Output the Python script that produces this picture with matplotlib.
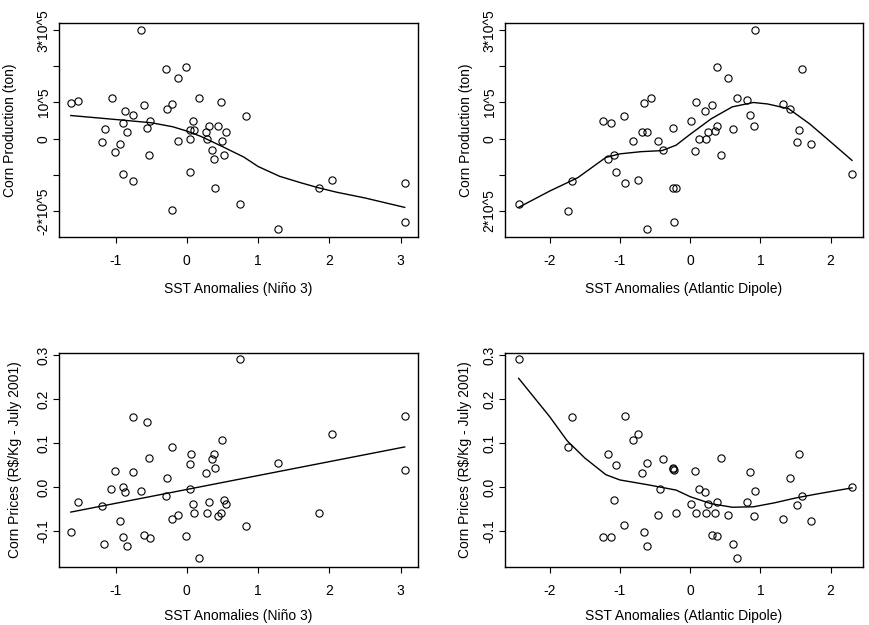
import matplotlib
matplotlib.use("Agg")
import matplotlib.pyplot as plt

plt.rcParams['font.family'] = ['Liberation Sans', 'DejaVu Sans']

# ---- Production vs Nino 3 ----
prod_nino_x = [-1.628, -1.528, -1.051, -1.154, -1.192, -1.005, -0.935, -0.902, -0.869, -0.841,
               -0.762, -0.902, -0.752, -0.649, -0.598, -0.561, -0.514, -0.533, -0.299, -0.280,
               -0.206, -0.210, -0.131, -0.131, -0.014, 0.047, 0.051, 0.051, 0.089, 0.103,
               0.173, 0.271, 0.280, 0.308, 0.355, 0.374, 0.393, 0.439, 0.472, 0.486,
               0.519, 0.556, 0.743, 0.827, 1.285, 1.855, 2.042, 3.056, 3.056]
prod_nino_y = [0.996, 1.051, 1.134, 0.276, -0.083, -0.359, -0.147, 0.433, 0.765, 0.175,
               0.654, -0.977, -1.161, 2.995, 0.922, 0.304, 0.479, -0.442, 1.935, 0.820,
               0.968, -1.977, 1.687, -0.065, 1.972, 0.0, 0.249, -0.922, 0.479, 0.230,
               1.111, 0.194, -0.009, 0.350, -0.313, -0.553, -1.364, 0.341, 1.023, -0.074,
               -0.442, 0.175, -1.806, 0.636, -2.488, -1.355, -1.143, -1.235, -2.304]
prod_nino_fit_x = [-1.628, -1.0, -0.5, -0.2, 0.0, 0.2, 0.5, 0.8, 1.0, 1.3, 1.6, 1.85, 2.1, 2.5, 3.056]
prod_nino_fit_y = [0.64, 0.53, 0.44, 0.33, 0.21, 0.06, -0.22, -0.51, -0.77, -1.04, -1.22, -1.36, -1.48, -1.64, -1.90]

# ---- Production vs Atlantic Dipole ----
prod_atl_x = [-2.441, -1.744, -1.687, -1.242, -1.166, -1.133, -1.081, -1.062, -0.943, -0.924,
              -0.810, -0.749, -0.687, -0.659, -0.621, -0.607, -0.555, -0.460, -0.384, -0.251,
              -0.246, -0.223, -0.199, 0.014, 0.066, 0.081, 0.133, 0.218, 0.232, 0.256,
              0.318, 0.355, 0.384, 0.389, 0.441, 0.540, 0.616, 0.668, 0.810, 0.848,
              0.910, 0.919, 1.322, 1.417, 1.517, 1.550, 1.597, 1.720, 2.303]
prod_atl_y = [-1.806, -1.999, -1.161, 0.479, -0.553, 0.433, -0.442, -0.922, 0.636, -1.235,
              -0.074, -1.143, 0.194, 0.996, 0.175, -2.488, 1.134, -0.065, -0.313, -1.355,
              0.304, -2.304, -1.355, 0.479, -0.350, 1.023, 0.0, 0.765, 0.0, 0.175,
              0.922, 0.221, 1.972, 0.359, -0.442, 1.687, 0.276, 1.111, 1.060, 0.654,
              0.341, 2.995, 0.968, 0.820, -0.083, 0.249, 1.935, -0.147, -0.977]
prod_atl_fit_x = [-2.441, -2.0, -1.6, -1.2, -1.0, -0.7, -0.4, -0.2, 0.0, 0.3, 0.6, 0.9, 1.1, 1.4, 1.7, 2.0, 2.303]
prod_atl_fit_y = [-1.90, -1.45, -1.08, -0.52, -0.42, -0.36, -0.33, -0.18, 0.12, 0.55, 0.88, 1.00, 0.96, 0.83, 0.41, -0.09, -0.60]

# ---- Prices vs Nino 3 ----
price_nino_x = [-1.628, -1.528, -1.196, -1.159, -1.061, -1.009, -0.939, -0.902, -0.902, -0.869,
                -0.841, -0.762, -0.762, -0.650, -0.598, -0.561, -0.533, -0.514, -0.299, -0.280,
                -0.210, -0.206, -0.131, -0.014, 0.047, 0.051, 0.056, 0.089, 0.103, 0.173,
                0.271, 0.280, 0.308, 0.355, 0.374, 0.393, 0.439, 0.472, 0.491, 0.519,
                0.556, 0.743, 0.827, 1.285, 1.855, 2.042, 3.056, 3.056]
price_nino_y = [-0.102, -0.035, -0.043, -0.130, -0.005, 0.036, -0.078, 0.000, -0.114, -0.011,
                -0.133, 0.160, 0.035, -0.009, -0.109, 0.147, 0.066, -0.115, -0.021, 0.020,
                -0.073, 0.090, -0.064, -0.112, -0.005, 0.052, 0.074, -0.038, -0.058, -0.162,
                0.032, -0.058, -0.034, 0.063, 0.074, 0.044, -0.067, -0.058, 0.107, -0.030,
                -0.038, 0.290, -0.088, 0.055, -0.058, 0.120, 0.161, 0.039]
price_nino_fit_x = [-1.628, 3.056]
price_nino_fit_y = [-0.057, 0.091]

# ---- Prices vs Atlantic Dipole ----
price_atl_x = [-2.441, -1.744, -1.687, -1.242, -1.166, -1.133, -1.081, -1.062, -0.943, -0.924,
               -0.810, -0.749, -0.687, -0.659, -0.621, -0.607, -0.460, -0.427, -0.384, -0.251,
               -0.246, -0.223, -0.199, 0.014, 0.066, 0.081, 0.133, 0.218, 0.232, 0.256,
               0.318, 0.355, 0.384, 0.389, 0.441, 0.540, 0.616, 0.668, 0.810, 0.848,
               0.910, 0.919, 1.322, 1.417, 1.517, 1.550, 1.597, 1.720, 2.303]
price_atl_y = [0.290, 0.090, 0.160, -0.114, 0.074, -0.114, -0.030, 0.051, -0.087, 0.161,
               0.106, 0.120, 0.032, -0.102, 0.055, -0.133, -0.064, -0.005, 0.064, 0.044,
               0.040, 0.039, -0.058, -0.038, 0.036, -0.058, -0.005, -0.011, -0.058, -0.038,
               -0.108, -0.058, -0.112, -0.034, 0.066, -0.064, -0.130, -0.162, -0.034, 0.035,
               -0.067, -0.009, -0.073, 0.020, -0.042, 0.074, -0.020, -0.077, -0.001]
price_atl_fit_x = [-2.441, -2.0, -1.75, -1.5, -1.2, -1.0, -0.6, -0.2, 0.0, 0.3, 0.6, 0.9, 1.2, 1.5, 1.8, 2.303]
price_atl_fit_y = [0.247, 0.160, 0.105, 0.066, 0.028, 0.016, 0.005, -0.007, -0.022, -0.038, -0.046, -0.045, -0.036, -0.025, -0.016, -0.002]

prod_yticks = [-2e5, -1e5, 0, 1e5, 2e5, 3e5]
prod_ylabels = ["-2*10^5", "", "0", "10^5", "", "3*10^5"]
prod_ylabels_atl = ["2*10^5", "", "0", "10^5", "", "3*10^5"]
price_yticks = [-0.1, 0.0, 0.1, 0.2, 0.3]
price_ylabels = ["-0.1", "0.0", "0.1", "0.2", "0.3"]
nino_xticks = [-1, 0, 1, 2, 3]
atl_xticks = [-2, -1, 0, 1, 2]

fig = plt.figure(figsize=(8.69, 6.25), dpi=100)

W, H = 869.0, 625.0
# axes boxes in pixels: left, top, right, bottom, ylabel centre x, xlabel centre y
boxes = [(59, 23, 418, 237, 10, 289), (505, 23, 863, 237, 466, 289),
         (59, 353, 418, 567, 15, 616), (505, 353, 863, 567, 465, 616)]


def make_axes(b):
    l, t, r, bt = b[:4]
    return fig.add_axes([l / W, 1 - bt / H, (r - l) / W, (bt - t) / H])


def style(ax, b, xticks, yticks, ylabels, xlabel, ylabel, xlim, ylim):
    l, t, r, bt, ylx, xly = b
    ax.set_xlim(*xlim)
    ax.set_ylim(*ylim)
    ax.set_xticks(xticks)
    ax.set_xticklabels([str(v) for v in xticks])
    ax.set_yticks(yticks)
    ax.set_yticklabels(ylabels, rotation=90, va='center')
    ax.tick_params(direction='out', length=4, width=0.8, labelsize=10, pad=8)
    ax.tick_params(axis='y', pad=2)
    for s in ax.spines.values():
        s.set_linewidth(1.0)
    ax.set_xlabel(xlabel, fontsize=10, va='center')
    ax.set_ylabel(ylabel, fontsize=10, va='center')
    ax.xaxis.set_label_coords(0.5, (bt - xly) / (bt - t))
    ax.yaxis.set_label_coords((ylx - l) / (r - l), 0.5)


def scatter_fit(ax, x, y, fx, fy, scale=1.0):
    ax.plot(x, [v * scale for v in y], 'o', ms=5.2, mfc='none', mec='black', mew=0.8)
    ax.plot(fx, [v * scale for v in fy], '-', color='black', lw=1.0)


ax1 = make_axes(boxes[0])
scatter_fit(ax1, prod_nino_x, prod_nino_y, prod_nino_fit_x, prod_nino_fit_y, 1e5)
style(ax1, boxes[0], nino_xticks, prod_yticks, prod_ylabels, "SST Anomalies (Niño 3)",
      "Corn Production (ton)", (-1.794, 3.243), (-2.719e5, 3.198e5))

ax2 = make_axes(boxes[1])
scatter_fit(ax2, prod_atl_x, prod_atl_y, prod_atl_fit_x, prod_atl_fit_y, 1e5)
style(ax2, boxes[1], atl_xticks, prod_yticks, prod_ylabels_atl, "SST Anomalies (Atlantic Dipole)",
      "Corn Production (ton)", (-2.635, 2.46), (-2.719e5, 3.198e5))

ax3 = make_axes(boxes[2])
scatter_fit(ax3, price_nino_x, price_nino_y, price_nino_fit_x, price_nino_fit_y)
style(ax3, boxes[2], nino_xticks, price_yticks, price_ylabels, "SST Anomalies (Niño 3)",
      "Corn Prices (R$/Kg - July 2001)", (-1.794, 3.243), (-0.1818, 0.3045))

ax4 = make_axes(boxes[3])
scatter_fit(ax4, price_atl_x, price_atl_y, price_atl_fit_x, price_atl_fit_y)
style(ax4, boxes[3], atl_xticks, price_yticks, price_ylabels, "SST Anomalies (Atlantic Dipole)",
      "Corn Prices (R$/Kg - July 2001)", (-2.635, 2.46), (-0.1818, 0.3045))

fig.savefig("out.png", dpi=100)
